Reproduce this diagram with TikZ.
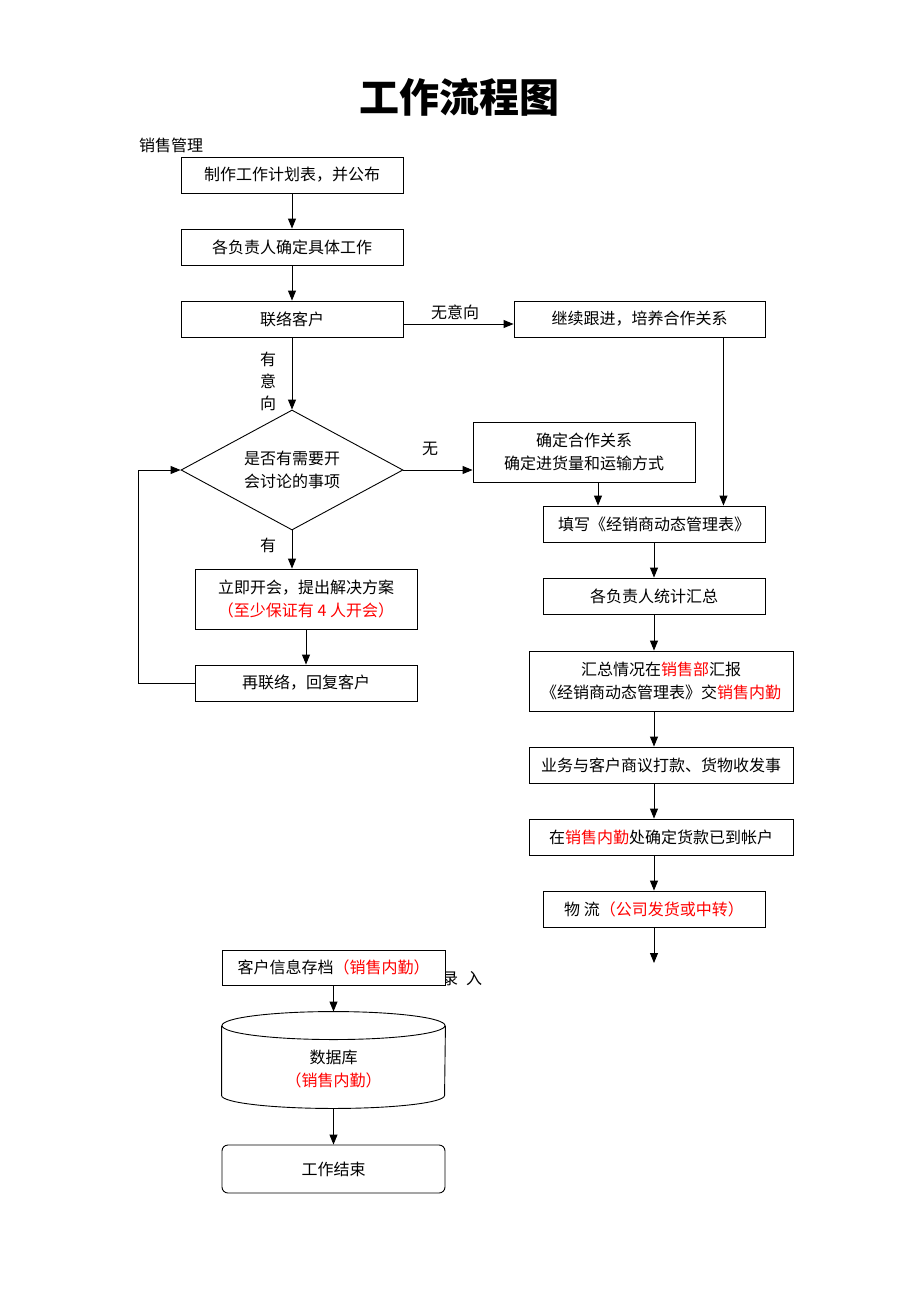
\documentclass[tikz,border=0pt]{standalone}
\usepackage{fontspec}
\setmainfont{Noto Sans CJK SC}
\usetikzlibrary{positioning,shapes.geometric,arrows.meta,calc}
\tikzset{box/.style = {draw,minimum width=222pt,minimum height=36pt,inner sep=0pt,align=center},
         tall/.style = {box,minimum height=60pt},
         wide/.style = {minimum width=264pt},
         lbl/.style = {inner sep=0pt,align=center}}

\begin{document}
\begin{tikzpicture}[x=1pt,y=-1pt,line width=0.9pt,>={Triangle[length=10pt,width=8pt]},
                    every node/.style={font=\fontsize{16pt}{23pt}\selectfont}]
    \useasboundingbox (0,0) rectangle (920,1302);
    \node[lbl,font=\fontsize{40pt}{40pt}\selectfont\bfseries] (title) at (459,97) {工作流程图};
    \node[lbl] (dept) at (171,145) {销售管理};
    % left column
    \node[box] (b1) at (292,175) {制作工作计划表，并公布};
    \node[box] (b2) at (292,247) {各负责人确定具体工作};
    \node[box] (b3) at (292,319) {联络客户};
    \node[draw,diamond,shape aspect=1.85,minimum width=222pt,minimum height=120pt,inner sep=0pt,align=center] (dia) at (292,470) {是否有需要开\\会讨论的事项};
    \node[tall] (b7) at (306,599) {立即开会，提出解决方案\\\textcolor{red}{（至少保证有 4 人开会）}};
    \node[box] (b8) at (306,683) {再联络，回复客户};
    % right column
    \node[box,minimum width=251pt] (b4) at (639.5,319) {继续跟进，培养合作关系};
    \node[tall] (b5) at (584,452) {确定合作关系\\确定进货量和运输方式};
    \node[box] (b6) at (654,524) {填写《经销商动态管理表》};
    \node[box] (b9) at (654,596) {各负责人统计汇总};
    \node[tall,wide] (b10) at (661,681) {汇总情况在\textcolor{red}{销售部}汇报\\《经销商动态管理表》交\textcolor{red}{销售内勤}};
    \node[box,wide] (b11) at (661,765) {业务与客户商议打款、货物收发事};
    \node[box,wide] (b12) at (661,837) {在\textcolor{red}{销售内勤}处确定货款已到帐户};
    \node[box] (b13) at (654,909) {物 流\textcolor{red}{（公司发货或中转）}};
    \coordinate (out) at (654,963);
    % bottom
    \node[lbl] (lr) at (462,979) {录\hspace{8pt}入};
    \node[box,fill=white,minimum width=223pt,minimum height=35pt] (b14) at (333.5,967.5) {客户信息存档\textcolor{red}{（销售内勤）}};
    \node[minimum width=223pt,minimum height=96pt,inner sep=0pt] (db) at (333.5,1060) {};
    \node[lbl] (dbtext) at (333.5,1069) {数据库\\\textcolor{red}{（销售内勤）}};
    \draw ($(db.north)+(0,14)$) ellipse [x radius=111.5pt,y radius=14pt];
    \draw ($(db.north west)+(0,14)$) -- ($(db.south west)+(0,-13)$)
          arc [start angle=180,end angle=360,x radius=111.5pt,y radius=13pt]
          -- ($(db.north east)+(0,14)$);
    \node[box,rounded corners=6pt,minimum width=223pt,minimum height=48pt] (finish) at (333.5,1169) {工作结束};
    % labels
    \node[lbl] (l1) at (455,312) {无意向};
    \node[lbl,font=\fontsize{16pt}{22pt}\selectfont] (l2) at (268,381) {有\\意\\向};
    \node[lbl] (l3) at (430,449) {无};
    \node[lbl] (l4) at (268,545) {有};
    % arrows
    \draw[->] (b1) -- (b2);
    \draw[->] (b2) -- (b3);
    \draw[->] ([yshift=-5pt]b3.east) -- ([yshift=-5pt]b4.west);
    \draw[->] (b3) -- (dia);
    \draw[->] (dia.east) -- (dia.east -| b5.west);
    \draw[->] ([xshift=14pt]b5.south) -- ([xshift=14pt]b5.south |- b6.north);
    \draw[->] ([xshift=-42pt]b4.south east) -- ([xshift=-42pt]b4.south east |- b6.north);
    \draw[->] (dia.south) -- (dia.south |- b7.north);
    \draw[->] (b7) -- (b8);
    \draw[->] (b8.west) -- ++(-56,0) |- (dia.west);
    \draw[->] (b6) -- (b9);
    \draw[->] (b9.south) -- (b9.south |- b10.north);
    \draw[->] (b10.south -| b9) -- (b11.north -| b9);
    \draw[->] (b11.south -| b9) -- (b12.north -| b9);
    \draw[->] (b12.south -| b9) -- (b13);
    \draw[->] (b13) -- (out);
    \draw[->] (b14) -- (db.north);
    \draw[->] (db) -- (finish);
\end{tikzpicture}
\end{document}
